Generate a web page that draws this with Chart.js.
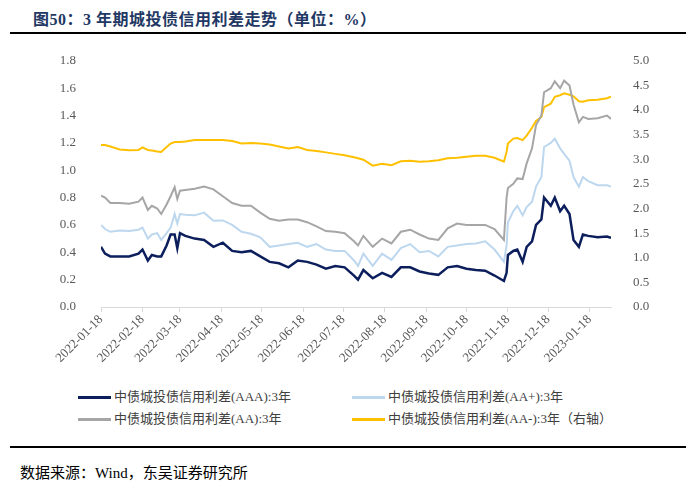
<!DOCTYPE html>
<html>
<head>
<meta charset="utf-8">
<script src="https://cdn.jsdelivr.net/npm/chart.js@4"></script>
<style>
  body { margin: 0; background: #fff; width: 700px; height: 493px; position: relative; overflow: hidden; }
  .title { position: absolute; left: 33px; top: 6px; font: bold 16px "Liberation Serif", "Noto Sans CJK SC", serif; color: #1F3864; letter-spacing: 0.5px; }
  .rule { position: absolute; left: 10px; width: 676px; height: 2px; background: #000; }
  .wrap { position: absolute; left: 0; top: 36px; width: 700px; height: 344px; }
  .legend { position: absolute; font: 13px "Liberation Serif", "Noto Sans CJK SC", serif; color: #404040; }
  .legend .item { position: absolute; white-space: nowrap; height: 18px; line-height: 18px; }
  .legend .swatch { display: inline-block; width: 33px; height: 3px; vertical-align: middle; margin-right: 3px; position: relative; top: -1px; }
  .source { position: absolute; left: 20px; top: 461px; font: 15px "Liberation Serif", "Noto Sans CJK SC", serif; color: #000; }
</style>
</head>
<body>
<div class="title">图50：3 年期城投债信用利差走势（单位：%）</div>
<div class="rule" style="top:32px"></div>
<div class="wrap"><canvas id="c" width="700" height="344"></canvas></div>
<div class="legend" id="legend"></div>
<div class="rule" style="top:446px"></div>
<div class="source">数据来源：Wind，东吴证券研究所</div>
<script>
const dates = ['2022-01-18','2022-01-21','2022-01-25','2022-02-01','2022-02-08','2022-02-15','2022-02-18','2022-02-22','2022-02-25',
  '2022-03-01','2022-03-04','2022-03-08','2022-03-11','2022-03-14','2022-03-16','2022-03-18','2022-03-22','2022-03-29',
  '2022-04-05','2022-04-12','2022-04-19','2022-04-26','2022-05-03','2022-05-10','2022-05-17','2022-05-24','2022-05-31',
  '2022-06-07','2022-06-14','2022-06-21','2022-06-28','2022-07-05','2022-07-12','2022-07-19','2022-07-26','2022-07-29',
  '2022-08-02','2022-08-09','2022-08-16','2022-08-23','2022-08-30','2022-09-06','2022-09-13','2022-09-20','2022-09-27',
  '2022-10-04','2022-10-11','2022-10-18','2022-10-25','2022-11-01','2022-11-08','2022-11-15','2022-11-17','2022-11-18',
  '2022-11-22','2022-11-25','2022-11-29','2022-12-02','2022-12-06','2022-12-09','2022-12-13','2022-12-15','2022-12-20',
  '2022-12-23','2022-12-27','2022-12-30','2023-01-03','2023-01-06','2023-01-10','2023-01-13','2023-01-17','2023-01-24',
  '2023-01-31','2023-02-03'];

const aaa = [0.44,0.39,0.37,0.37,0.37,0.39,0.42,0.34,0.38,
  0.37,0.37,0.45,0.53,0.53,0.43,0.54,0.52,0.50,
  0.49,0.44,0.47,0.41,0.40,0.41,0.37,0.33,0.32,
  0.29,0.34,0.33,0.31,0.28,0.30,0.29,0.23,0.20,
  0.27,0.21,0.25,0.22,0.29,0.29,0.26,0.245,0.235,
  0.29,0.30,0.28,0.27,0.265,0.23,0.19,0.25,0.38,
  0.41,0.42,0.33,0.44,0.48,0.60,0.64,0.80,0.74,
  0.80,0.70,0.74,0.68,0.49,0.44,0.53,0.52,0.51,
  0.515,0.505];

const aaPlus = [0.60,0.57,0.55,0.56,0.555,0.565,0.58,0.50,0.53,
  0.54,0.49,0.54,0.58,0.68,0.61,0.68,0.675,0.67,
  0.69,0.63,0.633,0.60,0.55,0.535,0.51,0.44,0.45,
  0.46,0.47,0.44,0.46,0.42,0.41,0.41,0.34,0.30,
  0.39,0.30,0.39,0.345,0.43,0.46,0.40,0.41,0.37,
  0.44,0.45,0.46,0.465,0.48,0.42,0.33,0.45,0.62,
  0.70,0.74,0.67,0.73,0.77,0.88,0.95,1.17,1.20,
  1.23,1.16,1.12,1.07,0.95,0.88,0.95,0.92,0.89,
  0.89,0.88];

const aa = [0.815,0.80,0.76,0.76,0.755,0.77,0.80,0.71,0.74,
  0.72,0.68,0.75,0.81,0.876,0.79,0.85,0.855,0.864,
  0.88,0.86,0.81,0.76,0.74,0.74,0.69,0.645,0.63,
  0.64,0.64,0.62,0.59,0.555,0.55,0.54,0.48,0.45,
  0.52,0.44,0.50,0.465,0.55,0.565,0.53,0.50,0.49,
  0.575,0.61,0.60,0.60,0.60,0.57,0.49,0.80,0.87,
  0.90,0.94,0.935,1.05,1.16,1.33,1.40,1.57,1.60,
  1.65,1.60,1.655,1.62,1.48,1.35,1.39,1.375,1.38,
  1.40,1.375];

// right axis
const aaMinus = [3.29,3.29,3.26,3.20,3.185,3.19,3.24,3.19,3.18,
  3.16,3.15,3.25,3.32,3.35,3.35,3.35,3.36,3.39,
  3.39,3.39,3.39,3.37,3.32,3.33,3.32,3.30,3.26,
  3.22,3.25,3.19,3.17,3.14,3.11,3.08,3.04,3.02,
  2.99,2.87,2.91,2.88,2.96,2.97,2.95,2.96,2.98,
  3.02,3.03,3.05,3.07,3.07,3.03,2.95,3.15,3.32,
  3.42,3.43,3.39,3.48,3.64,3.78,3.86,4.06,4.13,
  4.27,4.30,4.34,4.31,4.28,4.18,4.17,4.20,4.21,
  4.24,4.27];

const tickDates = ['2022-01-18','2022-02-18','2022-03-18','2022-04-18','2022-05-18','2022-06-18','2022-07-18',
  '2022-08-18','2022-09-18','2022-10-18','2022-11-18','2022-12-18','2023-01-18'];

const names = ['中债城投债信用利差(AAA):3年', '中债城投债信用利差(AA+):3年', '中债城投债信用利差(AA):3年', '中债城投债信用利差(AA-):3年（右轴）'];
const colors = ['#0C1F5C', '#BDD7EE', '#A6A6A6', '#FFC000'];

const t0 = Date.parse(dates[0]);
function dayOf(d) { return Math.round((Date.parse(d) - t0) / 86400000); }
const days = dates.map(dayOf);
const tickDays = tickDates.map(dayOf);

function pts(arr) { return arr.map((v, i) => ({ x: days[i], y: v })); }

const series = [aaa, aaPlus, aa, aaMinus];
const datasets = series.map((s, i) => ({
  label: names[i],
  data: pts(s),
  borderColor: colors[i],
  backgroundColor: colors[i],
  borderWidth: i == 0 ? 2.5 : 2,
  pointRadius: 0,
  tension: 0,
  yAxisID: i == 3 ? 'y2' : 'y'
}));

const tickFont = { family: '"Liberation Serif", serif', size: 13 };

new Chart(document.getElementById('c'), {
  type: 'line',
  data: { datasets: datasets },
  options: {
    responsive: false,
    animation: false,
    layout: { padding: { top: 16, left: 0, right: 0, bottom: 0 } },
    plugins: { legend: { display: false }, tooltip: { enabled: false } },
    scales: {
      x: {
        type: 'linear',
        min: 0,
        max: days[days.length - 1],
        afterBuildTicks: (axis) => { axis.ticks = tickDays.map(v => ({ value: v })); },
        afterFit: (axis) => { axis.height = 73; },
        ticks: {
          color: '#595959',
          font: tickFont,
          autoSkip: false,
          minRotation: 45,
          maxRotation: 45,
          padding: 0,
          callback: (v) => tickDates[tickDays.indexOf(v)]
        },
        grid: { drawOnChartArea: false, drawTicks: true, tickLength: 5, color: '#D9D9D9' },
        border: { display: true, color: '#D9D9D9' }
      },
      y: {
        position: 'left',
        min: 0,
        max: 1.8,
        afterFit: (axis) => { axis.width = 101; },
        ticks: { stepSize: 0.2, color: '#595959', font: tickFont, padding: 17, callback: (v) => v.toFixed(1) },
        grid: { display: false },
        border: { display: false }
      },
      y2: {
        position: 'right',
        min: 0,
        max: 5,
        afterFit: (axis) => { axis.width = 89; },
        ticks: { stepSize: 0.5, color: '#595959', font: tickFont, padding: 14, callback: (v) => v.toFixed(1) },
        grid: { display: false },
        border: { display: false }
      }
    }
  }
});

// legend, two columns
const legend = document.getElementById('legend');
const spots = [[78, 388], [352, 388], [78, 410], [352, 410]];
names.forEach((n, i) => {
  const el = document.createElement('div');
  el.className = 'item';
  el.style.left = spots[i][0] + 'px';
  el.style.top = spots[i][1] + 'px';
  el.innerHTML = '<span class="swatch" style="background:' + colors[i] + '"></span>' + n;
  legend.appendChild(el);
});
</script>
</body>
</html>
